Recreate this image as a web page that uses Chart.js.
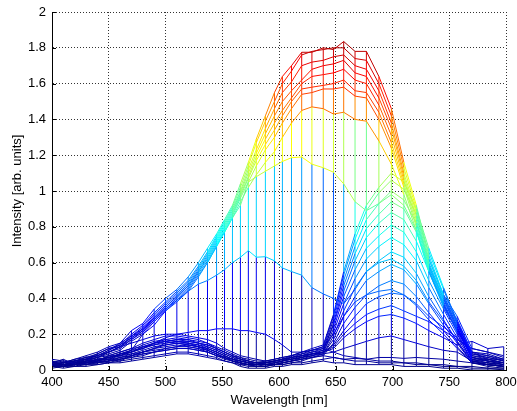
<!DOCTYPE html>
<html>
<head>
<meta charset="utf-8">
<script src="https://cdn.jsdelivr.net/npm/chart.js@4.4.1/dist/chart.umd.min.js"></script>
<style>
  html, body { margin: 0; padding: 0; background: #fff; }
  #wrap { width: 517px; height: 411px; }
</style>
</head>
<body>
<div id="wrap"><canvas id="spectra" width="517" height="411"></canvas></div>
<script>
// wavelength samples [nm]
var wavelengths = [400, 410, 420, 430, 440, 450, 460, 470, 480, 490, 500, 510, 520, 529, 537, 545, 552, 559, 566, 573,
    580, 588, 596, 603, 611, 620, 629, 639, 648, 657, 667, 677, 688, 699, 710, 721, 732, 745, 757, 770, 784, 798];

// spectra with the broad peak near 650 nm
var specA1 = [0.05,0.04,0.06,0.08,0.1,0.13,0.15,0.22,0.26,0.34,0.4,0.45,0.52,0.6,0.68,0.76,0.84,0.92,1.04,
    1.16,1.29,1.42,1.55,1.64,1.7,1.775,1.775,1.8,1.79,1.835,1.78,1.78,1.64,1.46,1.16,0.92,0.64,0.42,0.3,0.12,0.1,0.07];
var specA2 = [0.04,0.05,0.05,0.07,0.09,0.12,0.14,0.2,0.25,0.32,0.38,0.44,0.5,0.58,0.66,0.75,0.83,0.91,1.02,
    1.14,1.27,1.39,1.5,1.6,1.67,1.76,1.78,1.79,1.8,1.8,1.74,1.73,1.6,1.42,1.13,0.9,0.62,0.41,0.28,0.1,0.09,0.06];
var specA3 = [0.03,0.04,0.06,0.07,0.08,0.11,0.15,0.19,0.24,0.31,0.37,0.43,0.49,0.57,0.65,0.74,0.82,0.9,1.0,
    1.12,1.23,1.35,1.46,1.55,1.61,1.7,1.72,1.73,1.75,1.76,1.7,1.68,1.56,1.38,1.1,0.88,0.6,0.4,0.27,0.1,0.08,0.06];
var specA4 = [0.05,0.03,0.05,0.06,0.09,0.12,0.13,0.19,0.23,0.3,0.36,0.42,0.48,0.56,0.64,0.73,0.81,0.89,0.99,
    1.1,1.21,1.32,1.42,1.5,1.56,1.62,1.68,1.7,1.71,1.73,1.66,1.64,1.52,1.35,1.08,0.86,0.59,0.39,0.26,0.09,0.08,0.05];
var specA5 = [0.04,0.04,0.05,0.07,0.08,0.11,0.14,0.18,0.23,0.29,0.35,0.41,0.47,0.55,0.63,0.72,0.8,0.88,0.98,
    1.08,1.19,1.29,1.38,1.45,1.52,1.6,1.64,1.65,1.66,1.68,1.62,1.6,1.48,1.31,1.06,0.84,0.58,0.38,0.25,0.09,0.07,0.05];
var specA6 = [0.03,0.04,0.05,0.06,0.08,0.1,0.13,0.18,0.22,0.29,0.35,0.41,0.47,0.55,0.62,0.71,0.79,0.87,0.97,
    1.07,1.17,1.26,1.34,1.42,1.5,1.57,1.58,1.59,1.6,1.62,1.56,1.55,1.44,1.27,1.04,0.82,0.57,0.37,0.24,0.08,0.07,0.05];
var specA7 = [0.04,0.03,0.04,0.06,0.07,0.1,0.13,0.17,0.22,0.28,0.34,0.4,0.46,0.54,0.61,0.7,0.78,0.86,0.96,
    1.05,1.14,1.23,1.3,1.38,1.46,1.54,1.55,1.57,1.57,1.58,1.53,1.52,1.4,1.24,1.02,0.8,0.56,0.36,0.23,0.08,0.06,0.04];
var specA8 = [0.03,0.04,0.05,0.06,0.07,0.1,0.12,0.17,0.21,0.28,0.34,0.39,0.45,0.53,0.6,0.69,0.77,0.85,0.94,
    1.02,1.09,1.16,1.22,1.3,1.38,1.45,1.47,1.46,1.43,1.44,1.4,1.39,1.28,1.15,0.98,0.78,0.55,0.35,0.22,0.07,0.06,0.04];
var specA9 = [0.03,0.03,0.04,0.05,0.07,0.09,0.11,0.16,0.2,0.27,0.33,0.38,0.44,0.52,0.6,0.69,0.77,0.85,0.92,
    1.05,1.08,1.11,1.14,1.165,1.186,1.19,1.15,1.13,1.105,1.04,0.94,0.89,0.93,0.98,0.92,0.78,0.55,0.36,0.22,0.07,0.05,0.04];
var specA10 = [0.03,0.02,0.04,0.04,0.06,0.07,0.09,0.11,0.2,0.25,0.33,0.39,0.44,0.48,0.5,0.53,0.56,0.6,0.63,
    0.667,0.63,0.633,0.61,0.57,0.55,0.53,0.46,0.425,0.4,0.37,0.45,0.55,0.6,0.62,0.58,0.5,0.38,0.27,0.16,0.05,0.04,0.03];
var specA11 = [0.02,0.03,0.03,0.05,0.05,0.07,0.08,0.1,0.12,0.15,0.18,0.2,0.21,0.22,0.22,0.23,0.23,0.23,0.22,
    0.22,0.21,0.2,0.17,0.14,0.1,0.1,0.11,0.13,0.2,0.3,0.38,0.42,0.44,0.45,0.42,0.36,0.28,0.2,0.12,0.04,0.03,0.02];

// spectra with the peak near 700 nm
var specB1 = [0.03,0.02,0.04,0.05,0.06,0.07,0.09,0.11,0.14,0.16,0.17,0.18,0.17,0.16,0.15,0.13,0.11,0.09,0.07,0.06,
    0.05,0.05,0.06,0.07,0.08,0.1,0.12,0.14,0.31,0.55,0.76,0.92,1.02,1.1,1.05,0.9,0.68,0.46,0.27,0.07,0.05,0.04];
var specB2 = [0.04,0.03,0.03,0.06,0.05,0.08,0.1,0.12,0.15,0.17,0.19,0.19,0.18,0.17,0.15,0.12,0.1,0.08,0.07,0.05,
    0.04,0.05,0.05,0.06,0.08,0.09,0.11,0.13,0.3,0.53,0.73,0.89,0.99,1.06,1.01,0.87,0.66,0.45,0.26,0.07,0.05,0.03];
var specB3 = [0.02,0.03,0.05,0.04,0.06,0.07,0.09,0.1,0.13,0.15,0.16,0.17,0.17,0.15,0.14,0.12,0.1,0.08,0.06,0.05,
    0.04,0.04,0.05,0.06,0.07,0.09,0.1,0.12,0.28,0.5,0.69,0.84,0.93,1.0,0.95,0.82,0.62,0.42,0.24,0.06,0.05,0.03];
var specB4 = [0.03,0.02,0.04,0.05,0.05,0.08,0.08,0.11,0.12,0.15,0.17,0.16,0.16,0.15,0.13,0.11,0.09,0.07,0.06,0.04,
    0.04,0.04,0.05,0.05,0.07,0.08,0.1,0.11,0.26,0.47,0.65,0.79,0.87,0.94,0.9,0.77,0.58,0.4,0.23,0.06,0.04,0.03];
var specB5 = [0.04,0.03,0.03,0.04,0.06,0.06,0.09,0.1,0.13,0.14,0.15,0.16,0.15,0.14,0.13,0.11,0.09,0.07,0.05,0.04,
    0.03,0.04,0.04,0.05,0.06,0.08,0.09,0.11,0.25,0.44,0.61,0.74,0.82,0.88,0.84,0.72,0.55,0.37,0.21,0.05,0.04,0.02];
var specB6 = [0.02,0.02,0.03,0.05,0.05,0.07,0.08,0.1,0.12,0.14,0.16,0.15,0.15,0.13,0.12,0.1,0.08,0.06,0.05,0.04,
    0.03,0.03,0.04,0.05,0.06,0.07,0.09,0.1,0.23,0.41,0.56,0.68,0.75,0.81,0.77,0.66,0.5,0.34,0.2,0.05,0.03,0.02];
var specB7 = [0.03,0.03,0.04,0.04,0.06,0.06,0.08,0.09,0.11,0.13,0.14,0.15,0.14,0.13,0.11,0.09,0.07,0.06,0.04,0.03,
    0.03,0.03,0.04,0.04,0.05,0.07,0.08,0.1,0.21,0.37,0.51,0.62,0.69,0.74,0.7,0.61,0.46,0.31,0.18,0.05,0.03,0.02];
var specB8 = [0.02,0.03,0.03,0.04,0.05,0.06,0.07,0.09,0.1,0.12,0.13,0.14,0.13,0.12,0.11,0.09,0.07,0.05,0.04,0.03,
    0.02,0.03,0.03,0.04,0.05,0.06,0.08,0.09,0.19,0.33,0.46,0.55,0.61,0.66,0.63,0.54,0.41,0.28,0.16,0.04,0.03,0.02];
var specB9 = [0.03,0.02,0.04,0.03,0.05,0.05,0.07,0.08,0.1,0.11,0.12,0.13,0.13,0.12,0.1,0.08,0.07,0.05,0.04,0.03,
    0.02,0.02,0.03,0.04,0.05,0.06,0.07,0.09,0.17,0.3,0.41,0.5,0.55,0.59,0.56,0.48,0.37,0.25,0.15,0.04,0.03,0.02];
var specB10 = [0.02,0.02,0.03,0.04,0.04,0.05,0.06,0.08,0.09,0.1,0.11,0.12,0.12,0.11,0.1,0.08,0.06,0.05,0.03,0.02,
    0.02,0.02,0.03,0.03,0.04,0.05,0.07,0.08,0.15,0.26,0.35,0.42,0.47,0.5,0.48,0.41,0.32,0.22,0.13,0.04,0.03,0.02];
var specB11 = [0.02,0.03,0.02,0.04,0.04,0.05,0.06,0.07,0.09,0.1,0.12,0.13,0.14,0.13,0.12,0.1,0.08,0.06,0.05,0.04,
    0.03,0.04,0.05,0.06,0.07,0.08,0.09,0.1,0.14,0.22,0.3,0.37,0.41,0.43,0.42,0.37,0.3,0.24,0.18,0.1,0.06,0.04];
var specB12 = [0.03,0.02,0.03,0.03,0.05,0.04,0.06,0.07,0.08,0.1,0.11,0.12,0.12,0.11,0.1,0.08,0.07,0.05,0.04,0.03,
    0.03,0.04,0.05,0.06,0.06,0.07,0.08,0.1,0.13,0.2,0.26,0.31,0.34,0.36,0.33,0.3,0.27,0.22,0.17,0.12,0.1,0.08];
var specB13 = [0.02,0.03,0.04,0.03,0.04,0.06,0.05,0.08,0.1,0.12,0.14,0.15,0.14,0.13,0.11,0.09,0.07,0.05,0.04,0.03,
    0.03,0.03,0.04,0.05,0.06,0.07,0.09,0.1,0.12,0.18,0.23,0.27,0.3,0.31,0.29,0.26,0.22,0.18,0.14,0.16,0.12,0.13];
var specB14 = [0.03,0.02,0.03,0.04,0.04,0.05,0.07,0.08,0.1,0.12,0.15,0.16,0.15,0.14,0.12,0.1,0.08,0.06,0.05,0.04,
    0.04,0.04,0.05,0.06,0.07,0.08,0.09,0.09,0.1,0.12,0.14,0.16,0.18,0.19,0.17,0.15,0.13,0.11,0.1,0.05,0.06,0.06];
var specB15 = [0.01,0.02,0.02,0.03,0.03,0.04,0.04,0.05,0.06,0.07,0.08,0.09,0.09,0.08,0.07,0.06,0.05,0.04,0.03,0.03,
    0.02,0.02,0.03,0.03,0.04,0.04,0.05,0.06,0.07,0.06,0.065,0.06,0.07,0.07,0.065,0.07,0.065,0.06,0.05,0.04,0.02,0.01];

// weak spectra, small bump near 500 nm
var specC1 = [0.06,0.05,0.04,0.06,0.08,0.1,0.13,0.15,0.17,0.19,0.2,0.2,0.19,0.18,0.17,0.15,0.12,0.1,0.08,0.07,
    0.06,0.05,0.06,0.07,0.08,0.1,0.11,0.12,0.1,0.08,0.07,0.06,0.05,0.05,0.04,0.04,0.03,0.03,0.02,0.02,0.01,0.01];
var specC2 = [0.04,0.06,0.03,0.05,0.07,0.08,0.1,0.12,0.13,0.15,0.16,0.17,0.16,0.15,0.14,0.12,0.1,0.08,0.06,0.05,
    0.04,0.03,0.03,0.04,0.05,0.06,0.07,0.08,0.07,0.06,0.05,0.05,0.04,0.04,0.04,0.03,0.03,0.02,0.02,0.01,0.01,0.0];
var specC3 = [0.02,0.01,0.02,0.02,0.03,0.04,0.05,0.06,0.07,0.08,0.09,0.1,0.1,0.09,0.08,0.07,0.05,0.04,0.02,0.01,
    0.01,0.01,0.02,0.02,0.03,0.03,0.04,0.05,0.04,0.04,0.03,0.03,0.03,0.03,0.02,0.02,0.02,0.01,0.01,0.0,0.0,0.0];

var spectra = [specC3, specC2, specC1, specA11, specA10, specA9, specA8, specA7, specA6, specA5, specA4, specA3,
    specA2, specA1, specB1, specB2, specB3, specB4, specB5, specB6, specB7, specB8, specB9, specB10, specB11,
    specB12, specB13, specB14, specB15];

var xTicks = [400, 450, 500, 550, 600, 650, 700, 750, 800];
var yTicks = [0, 0.2, 0.4, 0.6, 0.8, 1, 1.2, 1.4, 1.6, 1.8, 2];

var CLIM_MAX = 1.9;

// matlab jet colormap
function jet(v) {
    var t = Math.max(0, Math.min(1, v / CLIM_MAX));
    var c = function (k) {
        return Math.round(255 * Math.max(0, Math.min(1, 1.5 - Math.abs(4 * t - k))));
    };
    return 'rgb(' + c(3) + ',' + c(2) + ',' + c(1) + ')';
}

var datasets = [];

// mesh columns: one vertical line per wavelength, coloured by the lower vertex
wavelengths.forEach(function (w, i) {
    var vals = spectra.map(function (s) { return s[i]; }).sort(function (a, b) { return a - b; });
    datasets.push({
        data: vals.map(function (v) { return { x: w, y: v }; }),
        borderWidth: 1,
        borderColor: jet(vals[0]),
        segment: { borderColor: function (c) { return jet(c.p0.parsed.y); } },
        pointRadius: 0,
        order: 2
    });
});

// mesh rows: one line per spectrum
spectra.forEach(function (s) {
    datasets.push({
        data: s.map(function (v, i) { return { x: wavelengths[i], y: v }; }),
        borderWidth: 1,
        borderColor: jet(s[0]),
        segment: { borderColor: function (c) { return jet(c.p0.parsed.y); } },
        pointRadius: 0,
        order: 1
    });
});

// tick marks pointing into the plot, like matlab
var innerTicks = {
    id: 'innerTicks',
    afterDraw: function (chart) {
        var ctx = chart.ctx, a = chart.chartArea, x = chart.scales.x, y = chart.scales.y;
        ctx.save();
        ctx.strokeStyle = '#000';
        ctx.lineWidth = 1;
        ctx.beginPath();
        xTicks.forEach(function (t) {
            var px = Math.round(x.getPixelForValue(t)) + 0.5;
            ctx.moveTo(px, a.bottom);
            ctx.lineTo(px, a.bottom - 4);
        });
        yTicks.forEach(function (t) {
            var py = Math.round(y.getPixelForValue(t)) + 0.5;
            ctx.moveTo(a.left, py);
            ctx.lineTo(a.left + 4, py);
        });
        ctx.stroke();
        ctx.restore();
    }
};

var font = { family: 'Liberation Sans, Arial, sans-serif', size: 13 };

new Chart(document.getElementById('spectra'), {
    type: 'line',
    data: { datasets: datasets },
    options: {
        responsive: false,
        animation: false,
        events: [],
        layout: { padding: { top: 12, right: 11, left: 0, bottom: 0 } },
        plugins: {
            legend: { display: false },
            tooltip: { enabled: false }
        },
        scales: {
            x: {
                type: 'linear',
                min: 400,
                max: 800,
                afterFit: function (s) { s.height = 41; s.paddingLeft = 0; s.paddingRight = 0; },
                afterBuildTicks: function (s) { s.ticks = xTicks.map(function (v) { return { value: v }; }); },
                ticks: { color: '#000', font: font, padding: 5, maxRotation: 0, autoSkip: false },
                grid: { color: 'rgba(0,0,0,0.8)', lineWidth: 1, drawTicks: false },
                border: { display: true, color: '#000', width: 1, dash: [1, 2] },
                title: { display: true, text: 'Wavelength [nm]', color: '#000', font: font, padding: { top: 0, bottom: 3 } }
            },
            y: {
                type: 'linear',
                min: 0,
                max: 2,
                afterFit: function (s) { s.width = 52; s.paddingTop = 0; s.paddingBottom = 0; },
                afterBuildTicks: function (s) { s.ticks = yTicks.map(function (v) { return { value: v }; }); },
                ticks: {
                    color: '#000', font: font, padding: 6,
                    callback: function (v) { return String(Math.round(v * 10) / 10); }
                },
                grid: { color: 'rgba(0,0,0,0.8)', lineWidth: 1, drawTicks: false },
                border: { display: true, color: '#000', width: 1, dash: [1, 2] },
                title: { display: true, text: 'Intensity [arb. units]', color: '#000', font: font, padding: { top: 10, bottom: 0 } }
            }
        }
    },
    plugins: [innerTicks]
});
</script>
</body>
</html>
